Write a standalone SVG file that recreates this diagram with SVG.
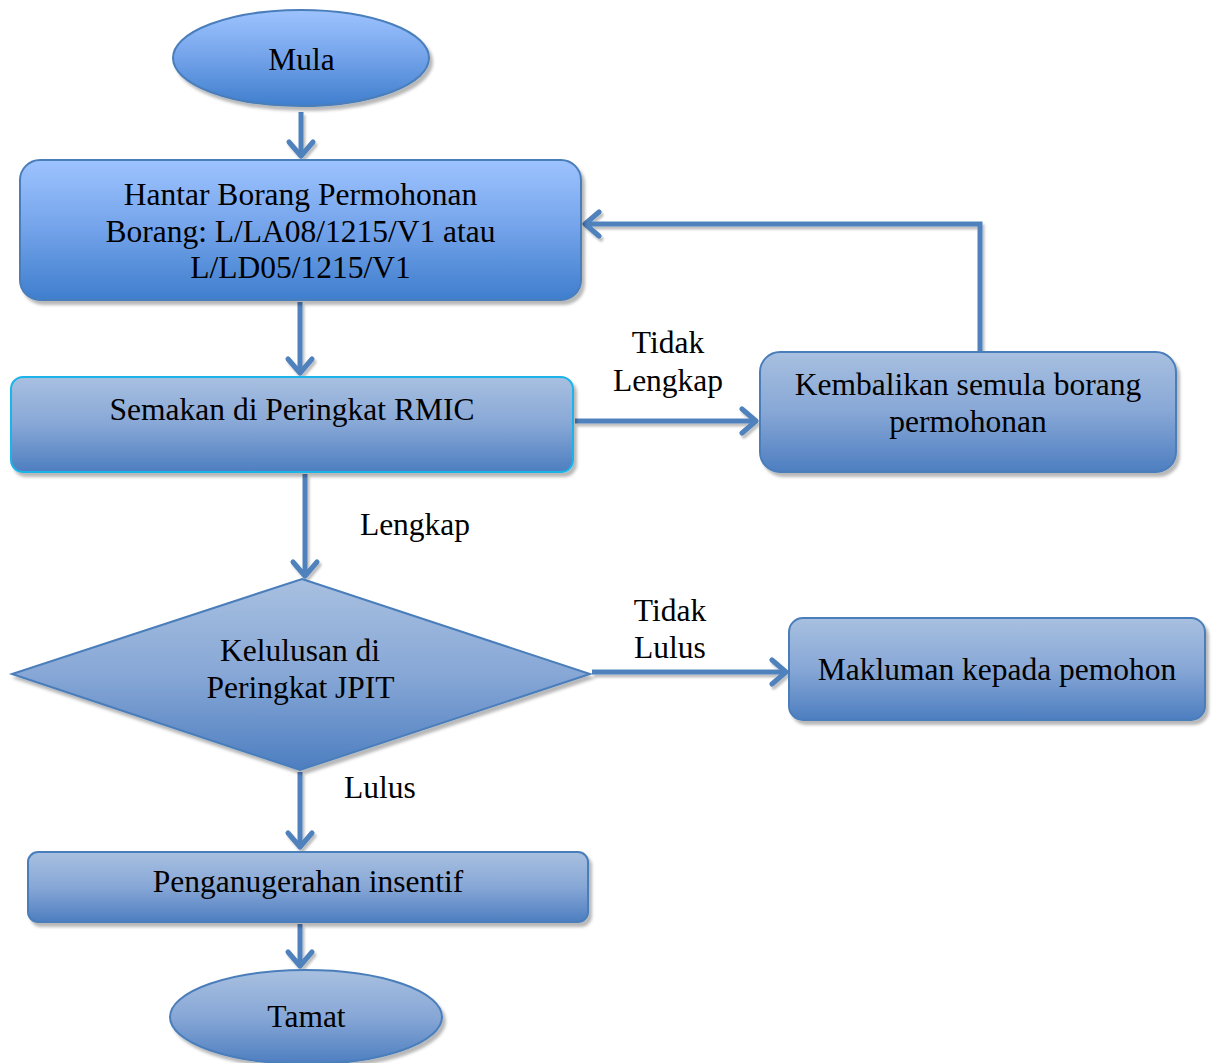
<svg xmlns="http://www.w3.org/2000/svg" width="1213" height="1063" viewBox="0 0 1213 1063">
  <defs>
    <linearGradient id="gBright" x1="0" y1="0" x2="0" y2="1">
      <stop offset="0" stop-color="#9DC3FE"/>
      <stop offset="0.45" stop-color="#77A6EC"/>
      <stop offset="1" stop-color="#3F7ECD"/>
    </linearGradient>
    <linearGradient id="gSoft" x1="0" y1="0" x2="0" y2="1">
      <stop offset="0" stop-color="#A8C0E0"/>
      <stop offset="0.5" stop-color="#87A7D6"/>
      <stop offset="1" stop-color="#4D7EC0"/>
    </linearGradient>
    <filter id="shadow" x="-5%" y="-5%" width="115%" height="120%">
      <feDropShadow dx="3" dy="4" stdDeviation="1.5" flood-color="#000" flood-opacity="0.28"/>
    </filter>
    <!-- user-space region so straight (zero-width) lines still get a shadow -->
    <filter id="lineShadow" filterUnits="userSpaceOnUse" x="0" y="0" width="1213" height="1063">
      <feDropShadow dx="2" dy="3" stdDeviation="1" flood-color="#000" flood-opacity="0.25"/>
    </filter>
    <marker id="arrow" viewBox="-4 -4 22 32" refX="14" refY="12" markerWidth="22" markerHeight="32" markerUnits="userSpaceOnUse" orient="auto">
      <path d="M0,0 L14,12 L0,24" fill="none" stroke="#4F81BD" stroke-width="5" stroke-linecap="round" stroke-linejoin="round"/>
    </marker>
  </defs>
  <style>
    .bright { fill: url(#gBright); stroke: #4A7EBB; stroke-width: 2; filter: url(#shadow); }
    .soft { fill: url(#gSoft); stroke: #4A7EBB; stroke-width: 2; filter: url(#shadow); }
    .cyan { fill: url(#gSoft); stroke: #1CB4E8; stroke-width: 2; filter: url(#shadow); }
    .lbl { font-size: 31.5px; fill: #000; text-anchor: middle; }
    .conn { fill: none; stroke: #4F81BD; stroke-width: 5; marker-end: url(#arrow); filter: url(#lineShadow); }
  </style>

  <rect width="1213" height="1063" fill="#FFFFFF"/>

  <!-- connectors -->
  <g id="connectors">
    <path class="conn" d="M301,112 L301,156"/>
    <path class="conn" d="M300,302 L300,373"/>
    <path class="conn" d="M575,421 L756,421"/>
    <path class="conn" d="M980,352 L980,224 L585,224"/>
    <path class="conn" d="M305,474 L305,576"/>
    <path class="conn" d="M592,672 L786,672"/>
    <path class="conn" d="M300,772 L300,847"/>
    <path class="conn" d="M300,924 L300,966"/>
  </g>

  <!-- connector labels -->
  <g id="edge-labels">
    <text class="lbl" font-family="Liberation Serif" x="668" y="353">Tidak</text>
    <text class="lbl" font-family="Liberation Serif" x="668" y="391">Lengkap</text>
    <text class="lbl" font-family="Liberation Serif" x="415" y="535">Lengkap</text>
    <text class="lbl" font-family="Liberation Serif" x="670" y="621">Tidak</text>
    <text class="lbl" font-family="Liberation Serif" x="670" y="658">Lulus</text>
    <text class="lbl" font-family="Liberation Serif" x="380" y="798">Lulus</text>
  </g>

  <g id="mula">
    <ellipse class="bright" cx="301" cy="58" rx="128" ry="48"/>
    <text class="lbl" font-family="Liberation Serif" x="301.5" y="70">Mula</text>
  </g>

  <g id="hantar">
    <rect class="bright" x="20" y="160" width="561" height="140" rx="20"/>
    <text class="lbl" font-family="Liberation Serif" x="300.5" y="205">Hantar Borang Permohonan</text>
    <text class="lbl" font-family="Liberation Serif" x="300.5" y="242">Borang: L/LA08/1215/V1 atau</text>
    <text class="lbl" font-family="Liberation Serif" x="300.5" y="278">L/LD05/1215/V1</text>
  </g>

  <g id="semakan">
    <rect class="cyan" x="11" y="377" width="562" height="95" rx="12"/>
    <text class="lbl" font-family="Liberation Serif" x="292" y="420">Semakan di Peringkat RMIC</text>
  </g>

  <g id="kembalikan">
    <rect class="soft" x="760" y="352" width="416" height="120" rx="20"/>
    <text class="lbl" font-family="Liberation Serif" x="968" y="395">Kembalikan semula borang</text>
    <text class="lbl" font-family="Liberation Serif" x="968" y="432">permohonan</text>
  </g>

  <g id="kelulusan">
    <polygon class="soft" points="302,579 590,674 300,770 12,674"/>
    <text class="lbl" font-family="Liberation Serif" x="300" y="661">Kelulusan di</text>
    <text class="lbl" font-family="Liberation Serif" x="300.5" y="698">Peringkat JPIT</text>
  </g>

  <g id="makluman">
    <rect class="soft" x="789" y="618" width="416" height="102" rx="14"/>
    <text class="lbl" font-family="Liberation Serif" x="997" y="680">Makluman kepada pemohon</text>
  </g>

  <g id="penganugerahan">
    <rect class="soft" x="28" y="852" width="560" height="70" rx="10"/>
    <text class="lbl" font-family="Liberation Serif" x="308" y="892">Penganugerahan insentif</text>
  </g>

  <g id="tamat">
    <ellipse class="soft" cx="306" cy="1017" rx="136" ry="47"/>
    <text class="lbl" font-family="Liberation Serif" x="306.5" y="1027">Tamat</text>
  </g>
</svg>
